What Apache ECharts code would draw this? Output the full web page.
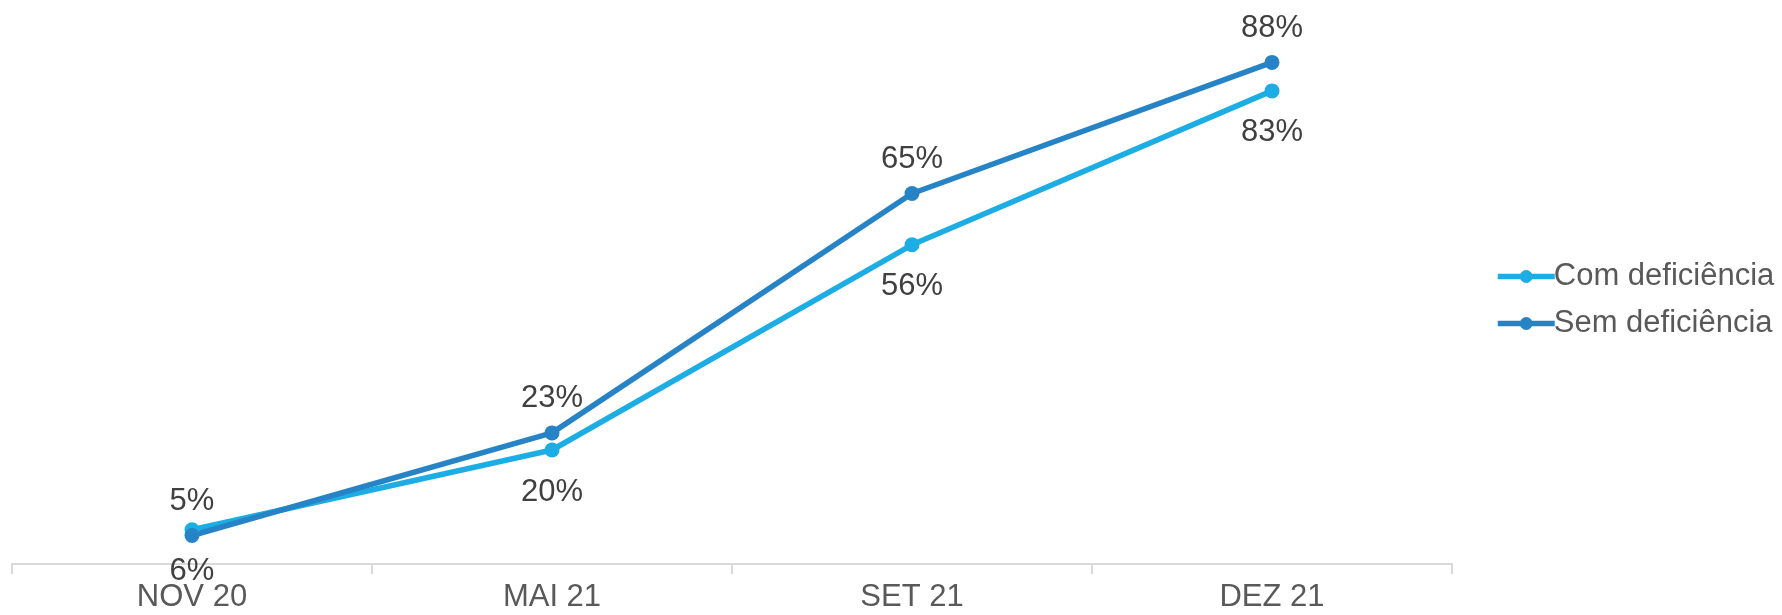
<!DOCTYPE html>
<html>
<head>
<meta charset="utf-8">
<script src="https://cdn.jsdelivr.net/npm/echarts@6/dist/echarts.min.js"></script>
<style>
  html, body { margin: 0; padding: 0; background: #ffffff; }
  #chart { width: 1782px; height: 615px; }
</style>
</head>
<body>
<div id="chart"></div>
<script>
// Periods on the horizontal axis
const periods = ['NOV 20', 'MAI 21', 'SET 21', 'DEZ 21'];
// Share (%) per group
const comDeficiencia = [6, 20, 56, 83];
const semDeficiencia = [5, 23, 65, 88];
const seriesNames = ['Com deficiência', 'Sem deficiência'];

const FONT = '"Liberation Sans", Arial, sans-serif';
const chart = echarts.init(document.getElementById('chart'), null, { renderer: 'canvas' });

function lineSeries(name, data, color, labelPos, dist) {
  return {
    name: name,
    type: 'line',
    data: data,
    symbol: 'circle',
    symbolSize: 15,
    lineStyle: { width: 5.5, color: color },
    itemStyle: { color: color },
    label: {
      show: true,
      position: labelPos,
      distance: dist,
      formatter: '{c}%',
      fontFamily: FONT,
      fontSize: 31,
      color: '#404040'
    },
    animation: false
  };
}

chart.setOption({
  backgroundColor: '#ffffff',
  grid: { left: 12, right: 330, top: 51, bottom: 51, containLabel: false },
  legend: {
    orient: 'vertical',
    left: 1490,
    top: 256,
    itemWidth: 57,
    itemHeight: 16,
    itemGap: 16,
    lineStyle: { width: 5.5 },
    textStyle: { fontFamily: FONT, fontSize: 31, color: '#595959', padding: [0, 0, 0, -6] },
    data: seriesNames
  },
  xAxis: {
    type: 'category',
    data: periods,
    boundaryGap: true,
    axisLine: { lineStyle: { color: '#d9d9d9', width: 2 } },
    axisTick: { show: true, length: 10, lineStyle: { color: '#d9d9d9', width: 2 } },
    axisLabel: { fontFamily: FONT, fontSize: 31, color: '#595959', margin: 18 }
  },
  yAxis: {
    type: 'value',
    min: 0,
    max: 90,
    show: false,
    splitLine: { show: false }
  },
  series: [
    lineSeries(seriesNames[0], comDeficiencia, '#1CADE4', 'bottom', 19),
    lineSeries(seriesNames[1], semDeficiencia, '#2683C6', 'top', 11)
  ]
});
</script>
</body>
</html>
